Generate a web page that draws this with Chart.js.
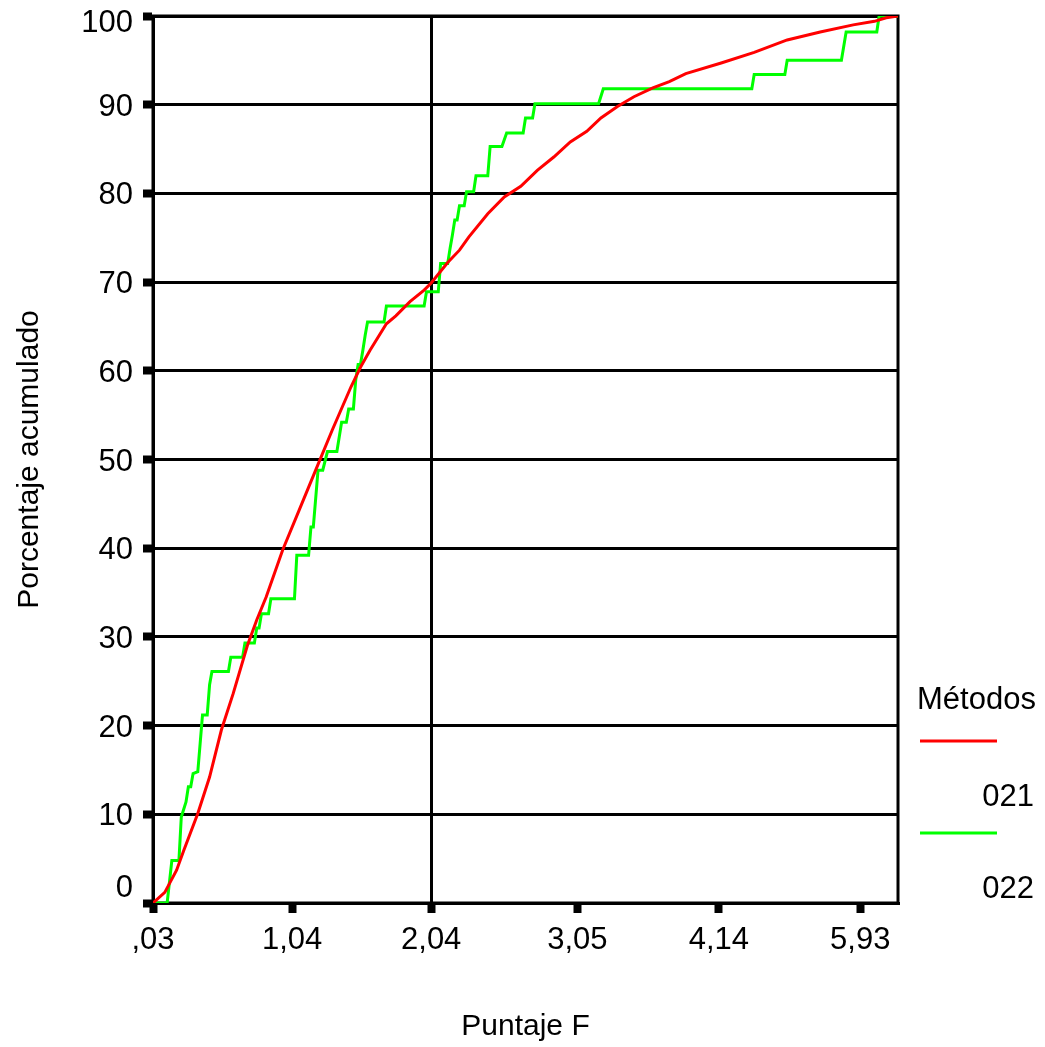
<!DOCTYPE html>
<html lang="es">

<head>
	<meta charset="UTF-8">
	<title>Porcentaje acumulado por método</title>
	<script src="https://cdn.jsdelivr.net/npm/chart.js"></script>
	<style>
		body,
		html {
			margin: 0;
			padding: 0;
			background-color: #ffffff;
		}

		canvas {
			display: block;
		}
	</style>
</head>

<body>
	<canvas id="cumChart" width="1045" height="1047"></canvas>

	<script>
		// rango del valor de Puntaje F (eje categórico: 0 = ,03 ... 316 = último valor)
		const xTickPos = [0, 59, 118, 180, 240, 300];
		const xTickLabels = [',03', '1,04', '2,04', '3,05', '4,14', '5,93'];
		const yTicks = [0, 10, 20, 30, 40, 50, 60, 70, 80, 90, 100];
		const refValue = 118; // línea de referencia en 2,04

		// método 021
		const redX = [0, 5, 10, 13, 19, 24, 29, 34, 40, 44, 48, 55, 62, 69, 76, 84, 88, 92, 99, 103, 109, 115, 118, 125, 130,
			134, 142, 149, 156, 163, 170, 177, 184, 190, 197, 204, 212, 219, 226, 241, 255, 269, 283, 297, 306, 311, 316];
		const redY = [0, 1.2, 3.7, 5.9, 10.1, 14.2, 19.5, 23.6, 29.0, 31.9, 34.5, 39.8, 44.3, 48.8, 53.3, 58.2, 60.4, 62.3, 65.3,
			66.2, 67.8, 69.1, 69.9, 72.2, 73.6, 75.1, 77.7, 79.6, 80.8, 82.6, 84.1, 85.8, 87.0, 88.5, 89.8, 90.9, 91.9, 92.6,
			93.5, 94.7, 95.9, 97.3, 98.2, 99.0, 99.4, 99.8, 100];

		// método 022
		const greenX = [0, 6, 8, 11, 12, 14, 15, 16, 17, 19, 20, 21, 23, 24, 25, 32, 33, 38, 39, 43, 44, 45, 46, 49, 50, 60, 61,
			66, 67, 68, 70, 72, 74, 78, 80, 82, 83, 85, 86, 87, 88, 89, 90, 91, 98, 99, 115, 116, 121, 122, 125, 126, 127, 128,
			129, 130, 132, 133, 136, 137, 142, 143, 148, 150, 157, 158, 161, 162, 189, 191, 254, 255, 268, 269, 292, 294, 307,
			308, 316];
		const greenY = [0, 0, 4.8, 4.8, 9.7, 11.4, 13.1, 13.1, 14.6, 14.8, 18.0, 21.2, 21.2, 24.6, 26.1, 26.1, 27.7, 27.7, 29.3,
			29.3, 31.0, 31.0, 32.6, 32.6, 34.3, 34.3, 39.2, 39.2, 42.4, 42.4, 48.8, 48.8, 50.9, 50.9, 54.2, 54.2, 55.7, 55.7,
			59.0, 60.7, 60.7, 62.3, 64.0, 65.5, 65.5, 67.3, 67.3, 68.9, 68.9, 72.1, 72.1, 73.8, 75.3, 77.0, 77.0, 78.6, 78.6,
			80.2, 80.2, 82.0, 82.0, 85.3, 85.3, 86.8, 86.8, 88.5, 88.5, 90.1, 90.1, 91.8, 91.8, 93.4, 93.4, 95.0, 95.0, 98.2,
			98.2, 100, 100];

		const series = [
			{ label: '021', color: '#ff0000', xs: redX, ys: redY },
			{ label: '022', color: '#00ff00', xs: greenX, ys: greenY }
		];

		const FONT = "'Liberation Sans', Arial, sans-serif";
		const FSIZE = 30;   // títulos
		const TSIZE = 31;   // marcas y leyenda

		// marco del área de gráfico
		const framePlugin = {
			id: 'frame',
			beforeDatasetsDraw(chart) {
				const { ctx, chartArea: a } = chart;
				ctx.save();
				ctx.strokeStyle = '#000';
				ctx.lineWidth = 3;
				ctx.strokeRect(a.left, a.top, a.right - a.left, a.bottom - a.top);
				ctx.restore();
			}
		};

		// etiquetas del eje Y, mantenidas dentro del alto del área
		const yLabelPlugin = {
			id: 'yLabels',
			afterDraw(chart) {
				const { ctx, chartArea: a } = chart;
				const y = chart.scales.y;
				ctx.save();
				ctx.font = TSIZE + 'px ' + FONT;
				ctx.fillStyle = '#000';
				ctx.textAlign = 'right';
				ctx.textBaseline = 'alphabetic';
				yTicks.forEach(v => {
					const base = Math.min(Math.max(y.getPixelForValue(v) + 11, a.top + 16), a.bottom - 6);
					ctx.fillText(String(v), a.left - 20, base);
				});
				ctx.restore();
			}
		};

		// leyenda "Métodos"
		const legendPlugin = {
			id: 'metodos',
			afterDraw(chart) {
				const { ctx, chartArea: a } = chart;
				const left = a.right + 22;
				const right = a.right + 136;
				ctx.save();
				ctx.font = TSIZE + 'px ' + FONT;
				ctx.fillStyle = '#000';
				ctx.textBaseline = 'alphabetic';
				ctx.textAlign = 'left';
				ctx.fillText('Métodos', left - 3, 709);
				series.forEach((s, i) => {
					const ly = 741 + i * 92;
					ctx.strokeStyle = s.color;
					ctx.lineWidth = 3;
					ctx.beginPath();
					ctx.moveTo(left, ly);
					ctx.lineTo(left + 77, ly);
					ctx.stroke();
					ctx.textAlign = 'right';
					ctx.fillText(s.label, right, ly + 65);
				});
				ctx.restore();
			}
		};

		const config = {
			type: 'line',
			data: {
				datasets: series.map(s => ({
					label: s.label,
					data: s.xs.map((x, i) => ({ x: x, y: s.ys[i] })),
					borderColor: s.color,
					backgroundColor: s.color,
					borderWidth: 3,
					pointRadius: 0,
					tension: 0,
					fill: false
				}))
			},
			options: {
				responsive: false,
				animation: false,
				layout: { padding: { left: 0, top: 16, right: 147, bottom: 0 } },
				plugins: {
					legend: { display: false },
					tooltip: { enabled: false }
				},
				scales: {
					x: {
						type: 'linear',
						min: 0,
						max: 316,
						afterBuildTicks: scale => {
							scale.ticks = xTickPos.map(v => ({ value: v }));
						},
						afterFit: scale => {
							scale.height = 144;
						},
						ticks: {
							autoSkip: false,
							maxRotation: 0,
							padding: 9,
							color: '#000',
							font: { family: FONT, size: TSIZE },
							callback: (value, index) => xTickLabels[index]
						},
						grid: {
							color: ctx => (ctx.tick && ctx.tick.value === refValue) ? '#000' : 'rgba(0,0,0,0)',
							lineWidth: 3,
							tickColor: '#000',
							tickLength: 10,
							tickWidth: 8
						},
						border: { display: true, color: '#000', width: 3 },
						title: {
							display: true,
							text: 'Puntaje F',
							color: '#000',
							font: { family: FONT, size: FSIZE },
							padding: { top: 0, bottom: 2 }
						}
					},
					y: {
						min: 0,
						max: 100,
						afterBuildTicks: scale => {
							scale.ticks = yTicks.map(v => ({ value: v }));
						},
						afterFit: scale => {
							scale.width = 153;
						},
						ticks: { display: false },
						grid: {
							color: '#000',
							lineWidth: 3,
							tickColor: '#000',
							tickLength: 10,
							tickWidth: 8
						},
						border: { display: true, color: '#000', width: 3 },
						title: {
							display: true,
							text: 'Porcentaje acumulado',
							color: '#000',
							font: { family: FONT, size: FSIZE },
							padding: { top: 12, bottom: 0 }
						}
					}
				}
			},
			plugins: [framePlugin, yLabelPlugin, legendPlugin]
		};

		new Chart(document.getElementById('cumChart').getContext('2d'), config);
	</script>
</body>

</html>
